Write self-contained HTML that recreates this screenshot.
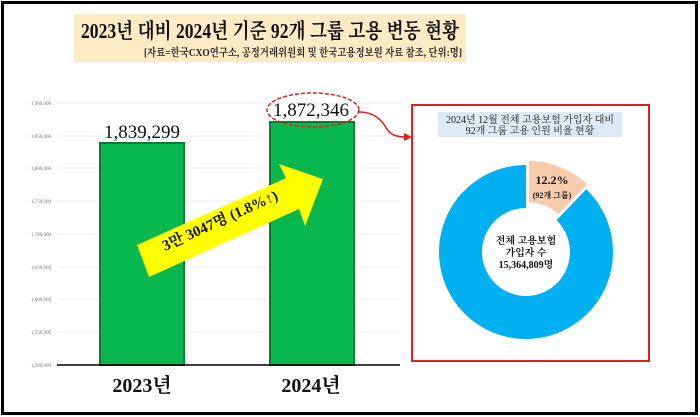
<!DOCTYPE html>
<html><head><meta charset="utf-8"><style>
html,body{margin:0;padding:0;background:#fff;}
svg{display:block;}
text{font-family:"Liberation Serif","Noto Serif CJK SC","Noto Sans CJK KR",serif;}
</style></head><body>
<svg width="700" height="417" viewBox="0 0 700 417" xmlns="http://www.w3.org/2000/svg">
<rect x="0" y="0" width="700" height="417" fill="#fff"/>
<rect x="2.5" y="2.5" width="694" height="411" fill="none" stroke="#000" stroke-width="3"/>
<!-- title -->
<rect x="74" y="14" width="392" height="48" fill="#fdebc6"/>
<text x="270" y="38" text-anchor="middle" font-size="21" font-weight="bold" fill="#111" textLength="378" lengthAdjust="spacingAndGlyphs">2023년 대비 2024년 기준 92개 그룹 고용 변동 현황</text>
<text x="462" y="56" text-anchor="end" font-size="11" font-weight="bold" fill="#222" textLength="318" lengthAdjust="spacingAndGlyphs">[자료=한국CXO연구소, 공정거래위원회 및 한국고용정보원 자료 참조, 단위:명]</text>
<!-- grid -->
<g stroke="#eeeeee" stroke-width="1">
<line x1="57" y1="103" x2="400" y2="103"/><line x1="57" y1="136" x2="400" y2="136"/>
<line x1="57" y1="168" x2="400" y2="168"/><line x1="57" y1="201" x2="400" y2="201"/>
<line x1="57" y1="234" x2="400" y2="234"/><line x1="57" y1="267" x2="400" y2="267"/>
<line x1="57" y1="299" x2="400" y2="299"/><line x1="57" y1="332" x2="400" y2="332"/>
</g>
<g font-size="5" fill="#777" text-anchor="end" style="font-family:'Liberation Sans',sans-serif">
<text x="51" y="105">1,900,000</text><text x="51" y="138">1,850,000</text>
<text x="51" y="170">1,800,000</text><text x="51" y="203">1,750,000</text>
<text x="51" y="236">1,700,000</text><text x="51" y="269">1,650,000</text>
<text x="51" y="301">1,600,000</text><text x="51" y="334">1,550,000</text>
<text x="51" y="367">1,500,000</text>
</g>
<!-- bars -->
<rect x="100" y="143" width="84" height="222" fill="#08b84f" stroke="#0b7a35" stroke-width="2"/>
<rect x="270" y="122" width="84" height="243" fill="#08b84f" stroke="#0b7a35" stroke-width="2"/>
<line x1="57" y1="365" x2="400" y2="365" stroke="#000" stroke-width="1.5"/>
<text x="142" y="138" text-anchor="middle" font-size="19" fill="#111">1,839,299</text>
<text x="311" y="116" text-anchor="middle" font-size="19" fill="#111">1,872,346</text>
<ellipse cx="313" cy="110" rx="46" ry="17" fill="none" stroke="#d22" stroke-width="1.5" stroke-dasharray="4,2"/>
<path d="M359,112 C372,112 380,118 385,126 C390,136 398,137 406,137" fill="none" stroke="#d22" stroke-width="1.5"/>
<polygon points="404,133 412,137 404,141" fill="#d22"/>
<text x="142" y="392" text-anchor="middle" font-size="20" font-weight="bold" fill="#111">2023년</text>
<text x="311" y="392" text-anchor="middle" font-size="20" font-weight="bold" fill="#111">2024년</text>
<!-- arrow -->
<polygon points="137,245 286,178 279,164 323,179 305,226 299,209 149,277" fill="#ffff00"/>
<text x="0" y="0" transform="translate(222,225) rotate(-24.5)" text-anchor="middle" font-size="15" font-weight="bold" fill="#111">3만 3047명 (1.8%↑)</text>
<!-- right panel -->
<rect x="412" y="105" width="237" height="256" fill="none" stroke="#e02020" stroke-width="2"/>
<rect x="438" y="112" width="184" height="25" fill="#dde9f5"/>
<text x="530" y="123" text-anchor="middle" font-size="10" fill="#222">2024년 12월 전체 고용보험 가입자 대비</text>
<text x="530" y="134" text-anchor="middle" font-size="10" fill="#222">92개 그룹 고용 인원 비율 현황</text>
<path d="M586.3,189.3 A87 87 0 1 1 526,165 L526,208 A44 44 0 1 0 556.5,220.3 Z" fill="#00b0f0"/>
<path transform="translate(2,-5)" d="M526,165 A87 87 0 0 1 586.3,189.3 L556.5,220.3 A44 44 0 0 0 526,208 Z" fill="#f8cbad" stroke="#fff" stroke-width="1.5"/>
<text x="552" y="184" text-anchor="middle" font-size="12" font-weight="bold" fill="#111">12.2%</text>
<text x="552" y="198" text-anchor="middle" font-size="8" font-weight="bold" fill="#111">(92개 그룹)</text>
<text x="526" y="244" text-anchor="middle" font-size="10" font-weight="bold" fill="#111">전체 고용보험</text>
<text x="526" y="256" text-anchor="middle" font-size="10" font-weight="bold" fill="#111">가입자 수</text>
<text x="526" y="268" text-anchor="middle" font-size="10" font-weight="bold" fill="#111">15,364,809명</text>
</svg>
</body></html>
